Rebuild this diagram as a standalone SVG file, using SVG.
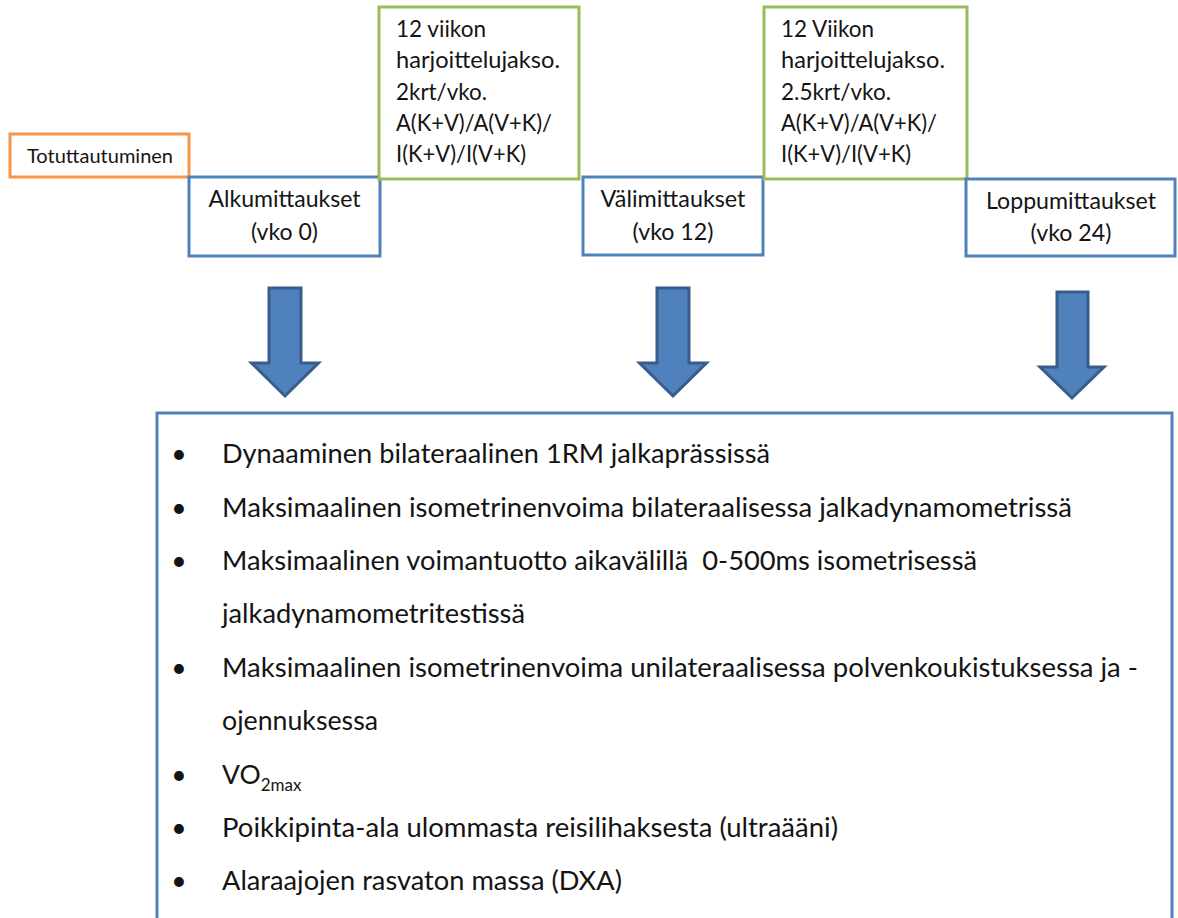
<svg xmlns="http://www.w3.org/2000/svg" width="1178" height="918" viewBox="0 0 1178 918">
<style>
  text { font-family: Lato, "Open Sans", "Liberation Sans", sans-serif; fill: #141414; }
  .box { fill: #ffffff; stroke-width: 3; }
  .blue { stroke: #4F81BD; }
  .green { stroke: #9BBB59; }
  .orange { stroke: #F79646; }
  .small { font-size: 19px; }
  .mid { font-size: 22.3px; }
  .big { font-size: 26.5px; }
  .sub { font-size: 17px; }
  .c { text-anchor: middle; }
  .arrow { fill: #4F81BD; stroke: #385D8A; stroke-width: 3; stroke-linejoin: miter; }
</style>
<rect width="1178" height="918" fill="#ffffff"/>

<g id="connectors">
  <path class="arrow" d="M269,288 H301 V363 H318.5 L285,396 L251.5,363 H269 Z"/>
  <path class="arrow" d="M657,288 H689 V363 H706.5 L673,396 L639.5,363 H657 Z"/>
  <path class="arrow" d="M1057,292 H1088 V367 H1104 L1072,398 L1040,367 H1057 Z"/>
</g>

<g id="totuttautuminen">
  <rect class="box orange" x="10" y="134" width="179" height="43"/>
  <text class="small" x="27" y="163" textLength="146" lengthAdjust="spacingAndGlyphs">Totuttautuminen</text>
</g>

<g id="alkumittaukset">
  <rect class="box blue" x="189" y="177" width="191" height="79"/>
  <text class="mid c" x="284.5" y="207" textLength="152" lengthAdjust="spacingAndGlyphs">Alkumittaukset</text>
  <text class="mid c" x="284.5" y="240" textLength="67" lengthAdjust="spacingAndGlyphs">(vko 0)</text>
</g>

<g id="jakso1">
  <rect class="box green" x="379" y="7" width="200" height="172"/>
  <text class="mid" x="396" y="37" textLength="90" lengthAdjust="spacingAndGlyphs">12 viikon</text>
  <text class="mid" x="396" y="68" textLength="164" lengthAdjust="spacingAndGlyphs">harjoittelujakso.</text>
  <text class="mid" x="396" y="100" textLength="91" lengthAdjust="spacingAndGlyphs">2krt/vko.</text>
  <text class="mid" x="396" y="131" textLength="156" lengthAdjust="spacingAndGlyphs">A(K+V)/A(V+K)/</text>
  <text class="mid" x="396" y="162" textLength="130" lengthAdjust="spacingAndGlyphs">I(K+V)/I(V+K)</text>
</g>

<g id="valimittaukset">
  <rect class="box blue" x="583" y="177" width="180" height="78"/>
  <text class="mid c" x="673" y="207" textLength="145" lengthAdjust="spacingAndGlyphs">Välimittaukset</text>
  <text class="mid c" x="673" y="240" textLength="81" lengthAdjust="spacingAndGlyphs">(vko 12)</text>
</g>

<g id="jakso2">
  <rect class="box green" x="764" y="7" width="203" height="172"/>
  <text class="mid" x="781" y="37" textLength="93" lengthAdjust="spacingAndGlyphs">12 Viikon</text>
  <text class="mid" x="781" y="68" textLength="164" lengthAdjust="spacingAndGlyphs">harjoittelujakso.</text>
  <text class="mid" x="781" y="100" textLength="110" lengthAdjust="spacingAndGlyphs">2.5krt/vko.</text>
  <text class="mid" x="781" y="131" textLength="156" lengthAdjust="spacingAndGlyphs">A(K+V)/A(V+K)/</text>
  <text class="mid" x="781" y="162" textLength="130" lengthAdjust="spacingAndGlyphs">I(K+V)/I(V+K)</text>
</g>

<g id="loppumittaukset">
  <rect class="box blue" x="966" y="179" width="209" height="77"/>
  <text class="mid c" x="1071" y="209" textLength="170" lengthAdjust="spacingAndGlyphs">Loppumittaukset</text>
  <text class="mid c" x="1071" y="241" textLength="81" lengthAdjust="spacingAndGlyphs">(vko 24)</text>
</g>

<g id="mittaukset">
  <rect class="box blue" x="157" y="413" width="1015" height="520"/>
  <text class="big c" x="179" y="463">•</text>
  <text class="big" x="222" y="463" textLength="548" lengthAdjust="spacingAndGlyphs">Dynaaminen bilateraalinen 1RM jalkaprässissä</text>
  <text class="big c" x="179" y="516.5">•</text>
  <text class="big" x="222" y="516.5" textLength="850" lengthAdjust="spacingAndGlyphs">Maksimaalinen isometrinenvoima bilateraalisessa jalkadynamometrissä</text>
  <text class="big c" x="179" y="570">•</text>
  <text class="big" x="222" y="570" textLength="755" lengthAdjust="spacingAndGlyphs">Maksimaalinen voimantuotto aikavälillä&#160; 0-500ms isometrisessä</text>
  <text class="big" x="222" y="623" textLength="303" lengthAdjust="spacingAndGlyphs">jalkadynamometritestissä</text>
  <text class="big c" x="179" y="676.5">•</text>
  <text class="big" x="222" y="676.5" textLength="916" lengthAdjust="spacingAndGlyphs">Maksimaalinen isometrinenvoima unilateraalisessa polvenkoukistuksessa ja -</text>
  <text class="big" x="222" y="730" textLength="156" lengthAdjust="spacingAndGlyphs">ojennuksessa</text>
  <text class="big c" x="179" y="783.5">•</text>
  <text class="big" x="222" y="783.5">VO<tspan class="sub" dy="7">2max</tspan></text>
  <text class="big c" x="179" y="837">•</text>
  <text class="big" x="222" y="837" textLength="616" lengthAdjust="spacingAndGlyphs">Poikkipinta-ala ulommasta reisilihaksesta (ultraääni)</text>
  <text class="big c" x="179" y="890">•</text>
  <text class="big" x="222" y="890" textLength="400" lengthAdjust="spacingAndGlyphs">Alaraajojen rasvaton massa (DXA)</text>
</g>
</svg>
